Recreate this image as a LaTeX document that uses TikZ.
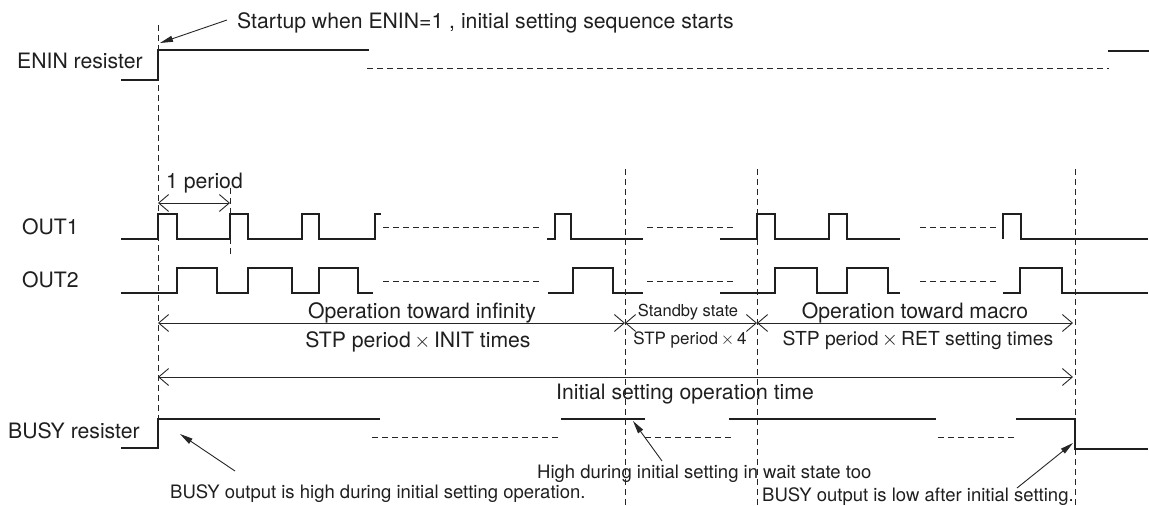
\documentclass[tikz,border=0pt]{standalone}
\usepackage{fontspec}
\setmainfont{TeX Gyre Heros}
\usetikzlibrary{arrows.meta}
\newcommand{\mytimes}{\,$\times$\,}
\begin{document}
\begin{tikzpicture}[x=1pt,y=-1pt,
  sig/.style={line width=2.4pt, line join=miter, draw=black!88},
  gap/.style={line width=0.9pt, draw=black!85, dash pattern=on 5.5pt off 4.5pt},
  guide/.style={line width=0.9pt, draw=black!85, dash pattern=on 6pt off 4pt},
  dim/.style={line width=0.9pt, draw=black!85, {Straight Barb[length=10pt,width=17pt]}-{Straight Barb[length=10pt,width=17pt]}},
  annot/.style={line width=0.9pt, draw=black!85, -{Triangle[length=13pt,width=6pt]}},
  lbl/.style={inner sep=0pt, text=black!88, font=\fontsize{21.2}{25}\selectfont},
  small/.style={inner sep=0pt, text=black!88, font=\fontsize{18.5}{22}\selectfont},
  tiny/.style={inner sep=0pt, text=black!88, font=\fontsize{16.5}{20}\selectfont},
]
\useasboundingbox (0,0) rectangle (1149,506);

% ---- guide lines (vertical dashed) ----
\coordinate (g1t) at (158,25);   \coordinate (g1b) at (158,419);
\coordinate (g2t) at (230,188);  \coordinate (g2b) at (230,255);
\coordinate (g3t) at (625,169);  \coordinate (g3b) at (625,506);
\coordinate (g4t) at (757,169);  \coordinate (g4b) at (757,506);
\coordinate (g5t) at (1075,169); \coordinate (g5b) at (1075,506);
\draw[guide] (g1t) -- (g1b);
\draw[guide] (g2t) -- (g2b);
\draw[guide] (g3t) -- (g3b);
\draw[guide] (g4t) -- (g4b);
\draw[guide] (g5t) -- (g5b);

% ---- labels ----
\node[lbl, anchor=base west] (enin) at (17,68) {ENIN resister};
\node[lbl, anchor=base west] (out1) at (22,234) {OUT1};
\node[lbl, anchor=base west] (out2) at (22,287) {OUT2};
\node[lbl, anchor=base west] (busy) at (8,438) {BUSY resister};

% ---- ENIN ----
\draw[sig] (121,80) -- (158,80) -- (158,50) -- (369,50);
\draw[gap] (367,68) -- (1109,68);
\draw[sig] (1108,51) -- (1149,51);

% ---- OUT1 ----
\draw[sig] (121,239) -- (158,239) -- (158,214) -- (177,214) -- (177,239)
  -- (230,239) -- (230,214) -- (248,214) -- (248,239)
  -- (302,239) -- (302,214) -- (319,214) -- (319,239)
  -- (375,239) -- (375,214) -- (381,214);
\draw[gap] (383,227) -- (540,227);
\draw[sig] (547,239) -- (555,239) -- (555,214) -- (571,214) -- (571,239) -- (643,239);
\draw[gap] (647,227) -- (735,227);
\draw[sig] (720,239) -- (757,239) -- (757,214) -- (775,214) -- (775,239)
  -- (829,239) -- (829,214) -- (847,214) -- (847,239) -- (900,239);
\draw[gap] (920,227) -- (998,227);
\draw[sig] (1003,239) -- (1003,214) -- (1021,214) -- (1021,239) -- (1148,239);

% ---- OUT2 ----
\draw[sig] (121,293) -- (177,293) -- (177,268) -- (217,268) -- (217,293)
  -- (248,293) -- (248,268) -- (292,268) -- (292,293)
  -- (319,293) -- (319,268) -- (358,268) -- (358,293) -- (373,293);
\draw[gap] (383,281) -- (540,281);
\draw[sig] (548,293) -- (573,293) -- (573,268) -- (613,268) -- (613,293) -- (643,293);
\draw[gap] (647,281) -- (735,281);
\draw[sig] (720,293) -- (775,293) -- (775,268) -- (817,268) -- (817,293)
  -- (847,293) -- (847,268) -- (888,268) -- (888,293) -- (900,293);
\draw[gap] (920,281) -- (998,281);
\draw[sig] (1003,293) -- (1020,293) -- (1020,268) -- (1062,268) -- (1062,293) -- (1148,293);

% ---- BUSY ----
\draw[sig] (121,448) -- (158,448) -- (158,419) -- (380,419);
\draw[gap] (372,437) -- (558,437);
\draw[sig] (561,419) -- (645,419);
\draw[gap] (645,437) -- (735,437);
\draw[sig] (729,419) -- (936,419);
\draw[gap] (938,437) -- (1017,437);
\draw[sig] (1016,419) -- (1075,419) -- (1075,449) -- (1148,449);

% ---- dimension arrows ----
\coordinate (p0) at (158,203); \coordinate (p1) at (230,203);
\draw[dim] (p0) -- (p1);
\node[lbl, anchor=base west] (per) at (166,188) {1 period};

\coordinate (a0) at (158,323); \coordinate (a1) at (625,323);
\coordinate (a2) at (757,323); \coordinate (a3) at (1073,323);
\draw[dim] (a0) -- (a1);
\draw[dim] (a1) -- (a2);
\draw[dim] (a2) -- (a3);
\coordinate (b0) at (158,377); \coordinate (b1) at (1073,377);
\draw[dim] (b0) -- (b1);

\node[lbl, anchor=base] (opinf) at (422,318) {Operation toward infinity};
\node[lbl, anchor=base] (stpinit) at (418,347) {STP period\mytimes INIT times};
\node[tiny, anchor=base] (stand) at (688,316) {Standby state};
\node[tiny, anchor=base, font=\fontsize{17}{20}\selectfont] (stp4) at (690,344) {STP period\mytimes 4};
\node[lbl, anchor=base] (opmac) at (915,318) {Operation toward macro};
\node[lbl, anchor=base, font=\fontsize{19.3}{22}\selectfont] (stpret) at (918,345) {STP period\mytimes RET setting times};
\node[lbl, anchor=base] (initop) at (685,399) {Initial setting operation time};

% ---- annotations ----
\node[lbl, anchor=base west] (startup) at (237,28) {Startup when ENIN=1 , initial setting sequence starts};
\coordinate (st0) at (227,20); \coordinate (st1) at (160,43);
\draw[annot] (st0) -- (st1);

\node[small, anchor=base west] (bhigh) at (170,498) {BUSY output is high during initial setting operation.};
\coordinate (bh0) at (235,471); \coordinate (bh1) at (180,434);
\draw[annot] (bh0) -- (bh1);

\node[small, anchor=base west] (hwait) at (537,478) {High during initial setting in wait state too};
\coordinate (hw0) at (662,461); \coordinate (hw1) at (633,421);
\draw[annot] (hw0) -- (hw1);

\node[small, anchor=base west] (blow) at (762,501) {BUSY output is low after initial setting.};
\coordinate (bl0) at (1017,488); \coordinate (bl1) at (1073,443);
\draw[annot] (bl0) -- (bl1);
\end{tikzpicture}
\end{document}
